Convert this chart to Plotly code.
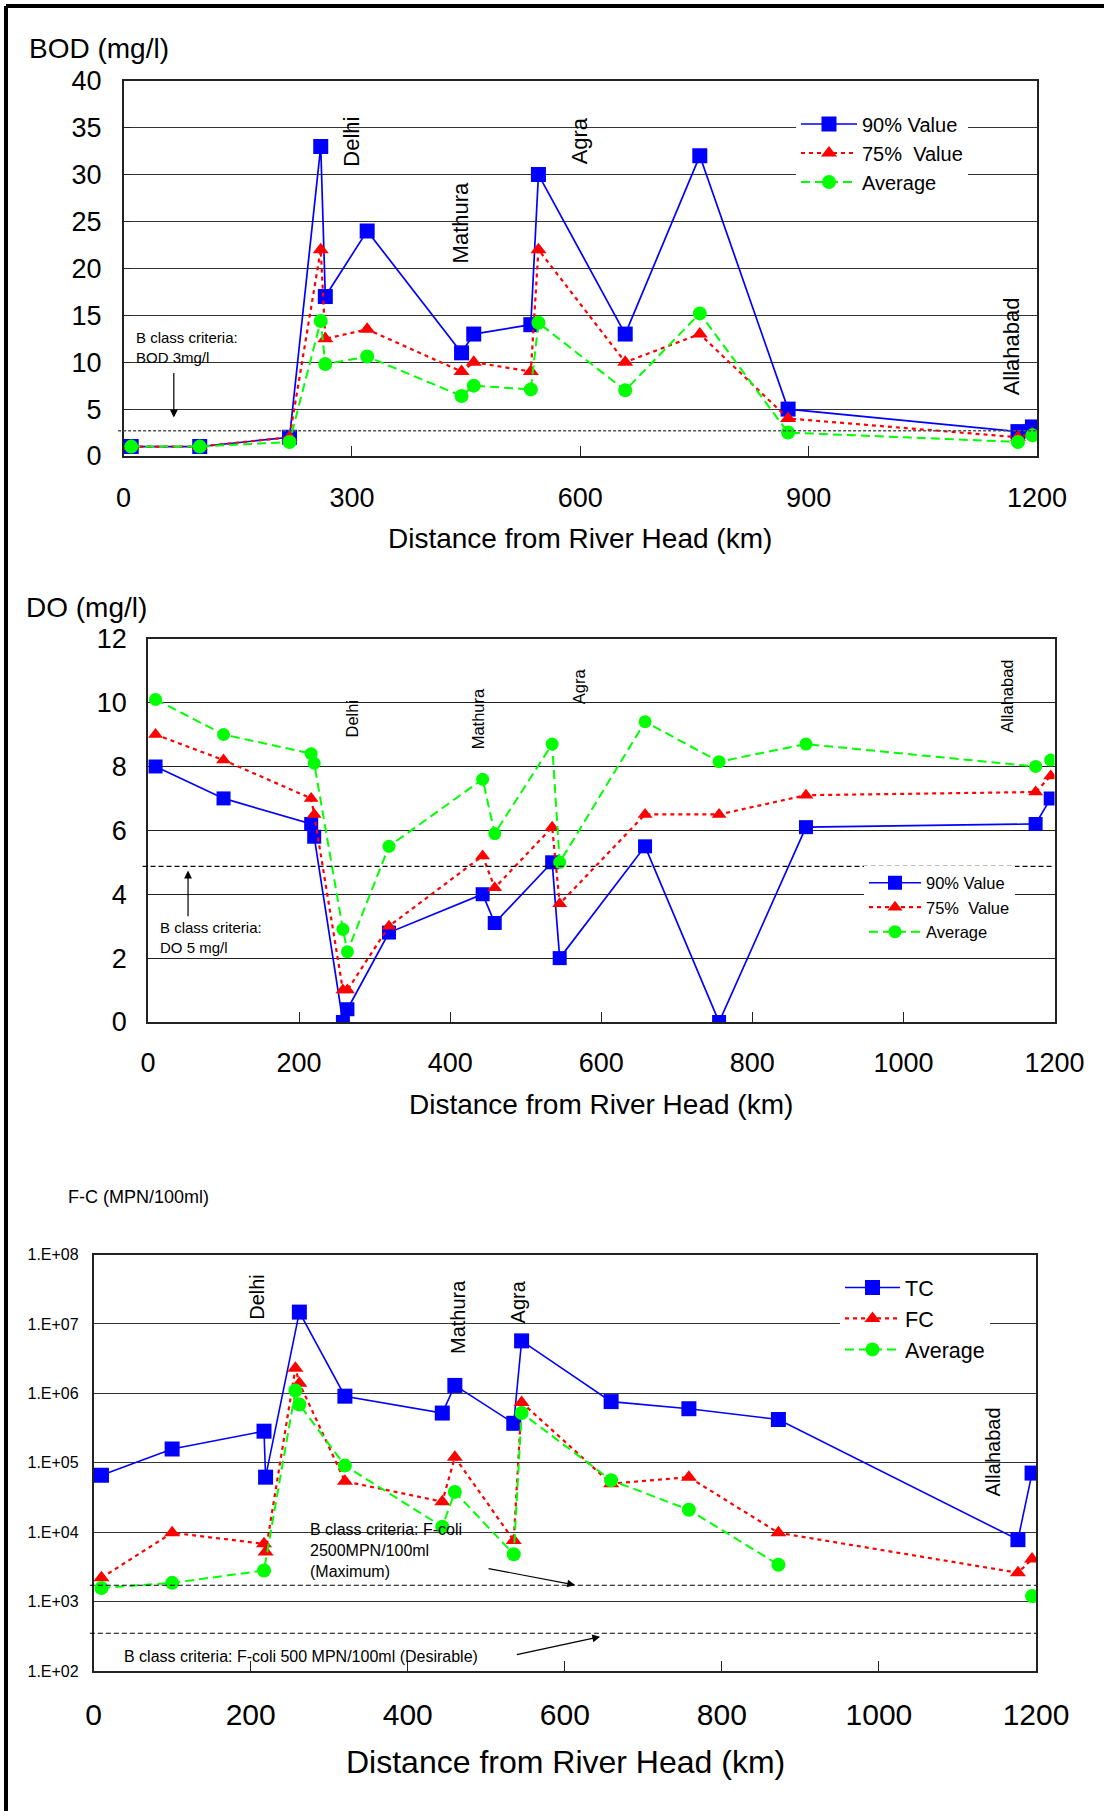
import plotly.graph_objects as go

W, H = 1104, 1811
FONT = "Liberation Sans, Arial, sans-serif"

# ---------------- BOD panel data ----------------
bod_km = [10, 100, 218, 259, 265, 320, 444, 460, 535, 545, 659, 757, 873, 1175, 1194]
bod_90 = [1, 1, 2, 33, 17, 24, 11, 13, 14, 30, 13, 32, 5, 2.6, 3.1]
bod_75 = [1, 1, 2, 22, 12.5, 13.5, 9, 10, 9, 22, 10, 13, 4, 2.0, 2.4]
bod_avg = [1, 1, 1.5, 14.4, 9.8, 10.6, 6.4, 7.5, 7.1, 14.2, 7.0, 15.2, 2.5, 1.5, 2.2]
bod_criteria = 2.7
bod_ticks = [0, 300, 600, 900, 1200]

# ---------------- DO panel data ----------------
do_km = [10, 100, 216, 220, 258, 264, 319, 443, 459, 535, 545, 658, 756, 871, 1175, 1195]
do_90 = [8.0, 7.0, 6.2, 5.8, 0.0, 0.4, 2.8, 4.0, 3.1, 5.0, 2.0, 5.5, 0.0, 6.1, 6.2, 7.0]
do_75 = [9.0, 8.2, 7.0, 6.5, 1.0, 1.0, 3.0, 5.2, 4.2, 6.1, 3.7, 6.5, 6.5, 7.1, 7.2, 7.7]
do_avg = [10.1, 9.0, 8.4, 8.1, 2.9, 2.2, 5.5, 7.6, 5.9, 8.7, 5.0, 9.4, 8.15, 8.7, 8.0, 8.2]
do_criteria = 4.87
do_ticks = [0, 200, 400, 600, 800, 1000, 1200]

# ---------------- Coliform panel data ----------------
tc_km = [10, 100, 217, 219, 262, 320, 444, 460, 535, 545, 659, 758, 872, 1177, 1195]
tc_val = [6.6e4, 1.58e5, 2.85e5, 6.2e4, 1.48e7, 9.1e5, 5.2e5, 1.3e6, 3.7e5, 5.7e6,
          7.6e5, 6.0e5, 4.2e5, 7.8e3, 7.1e4]
fc_km = [10, 100, 217, 219, 257, 262, 320, 444, 460, 535, 545, 659, 758, 872, 1177, 1195]
fc_val = [2.2e3, 9.8e3, 6.8e3, 5.2e3, 2.3e6, 1.4e6, 5.4e4, 2.75e4, 1.2e5, 7.6e3,
          7.4e5, 5.0e4, 6.2e4, 9.8e3, 2.6e3, 4.1e3]
fcavg_km = [10, 100, 217, 257, 262, 320, 444, 460, 535, 545, 659, 758, 872, 1177, 1195]
fcavg_val = [1.57e3, 1.86e3, 2.8e3, 1.1e6, 6.9e5, 9.1e4, 1.2e4, 3.8e4, 4.8e3, 5.2e5,
             5.6e4, 2.1e4, 3.4e3, None, 1.2e3]
fc_crit_max = 1720
fc_crit_des = 350
fc_ticks = [1e2, 1e3, 1e4, 1e5, 1e6, 1e7, 1e8]
fc_ticktext = ["1.E+02", "1.E+03", "1.E+04", "1.E+05", "1.E+06", "1.E+07", "1.E+08"]

BLUE, RED, GREEN = "#0000FF", "#FF0000", "#00FF00"


def px(x):
    return x / W


def py(y):
    return 1 - y / H


fig = go.Figure()


def add_series(xs, ys, xa, ya, name, color, dash, symbol, msize, lw, legend, connect=True):
    fig.add_trace(go.Scatter(
        x=xs, y=ys, xaxis=xa, yaxis=ya, name=name, mode="lines+markers",
        line=dict(color=color, width=lw, dash=dash),
        marker=dict(symbol=symbol, size=msize, color=color),
        connectgaps=connect, legend=legend))


# BOD
add_series(bod_km, bod_90, "x", "y", "90% Value", BLUE, "solid", "square", 15, 1.7, "legend")
add_series(bod_km, bod_75, "x", "y", "75%  Value", RED, "4px,4px", "triangle-up", 14, 2.2, "legend")
add_series(bod_km, bod_avg, "x", "y", "Average", GREEN, "9px,5px", "circle", 14, 2, "legend")
# DO
add_series(do_km, do_90, "x2", "y2", "90% Value", BLUE, "solid", "square", 14, 1.7, "legend2")
add_series(do_km, do_75, "x2", "y2", "75%  Value", RED, "4px,4px", "triangle-up", 13, 2.2, "legend2")
add_series(do_km, do_avg, "x2", "y2", "Average", GREEN, "9px,5px", "circle", 13, 2, "legend2")
# Coliform
add_series(tc_km, tc_val, "x3", "y3", "TC", BLUE, "solid", "square", 15, 1.6, "legend3")
add_series(fc_km, fc_val, "x3", "y3", "FC", RED, "4px,4px", "triangle-up", 14, 2.2, "legend3")
add_series(fcavg_km, fcavg_val, "x3", "y3", "Average", GREEN, "9px,5px", "circle", 14, 2, "legend3", connect=False)


def xaxis(dom, anchor, ticks, fsize, standoff):
    return dict(domain=dom, anchor=anchor, range=[0, 1200], tickvals=ticks,
                ticks="inside", ticklen=10, tickwidth=1, tickcolor="#222",
                showline=True, mirror=True, linecolor="#222", linewidth=1.5,
                showgrid=False, zeroline=False, automargin=False,
                tickfont=dict(family=FONT, size=fsize, color="black"),
                ticklabelstandoff=standoff)


fig.update_layout(
    width=W, height=H, margin=dict(l=0, r=0, t=0, b=0, autoexpand=False), autosize=False,
    paper_bgcolor="white", plot_bgcolor="white",
    font=dict(family=FONT, color="black"),
    xaxis=xaxis([px(123.6), px(1037)], "y", bod_ticks, 27, 17),
    yaxis=dict(domain=[py(456), py(80.8)], anchor="x", range=[0, 40], dtick=5,
               showgrid=True, gridcolor="#333", gridwidth=1.3,
               ticks="inside", ticklen=8, tickcolor="#222",
               showline=True, mirror=True, linecolor="#222", linewidth=1.5,
               zeroline=False, automargin=False,
               tickfont=dict(family=FONT, size=27, color="black"),
               ticklabelstandoff=15),
    xaxis2=xaxis([px(148), px(1054.5)], "y2", do_ticks, 27, 16),
    yaxis2=dict(domain=[py(1022), py(638.7)], anchor="x2", range=[0, 12], dtick=2,
                showgrid=True, gridcolor="#222", gridwidth=1,
                ticks="", showline=True, mirror=True, linecolor="#222", linewidth=1.5,
                zeroline=False, automargin=False,
                tickfont=dict(family=FONT, size=27, color="black"),
                ticklabelstandoff=14),
    xaxis3=xaxis([px(93.6), px(1036)], "y3", do_ticks, 30, 16),
    yaxis3=dict(domain=[py(1671), py(1254.5)], anchor="x3", type="log", range=[2, 8],
                tickvals=fc_ticks, ticktext=fc_ticktext,
                showgrid=True, gridcolor="#333", gridwidth=1.2,
                ticks="", showline=True, mirror=True, linecolor="#222", linewidth=1.5,
                zeroline=False, automargin=False,
                tickfont=dict(family=FONT, size=16, color="black"),
                ticklabelstandoff=10),
    legend=dict(x=px(796), y=py(104.5), xanchor="left", yanchor="top", bgcolor="white",
                borderwidth=0, font=dict(family=FONT, size=20), itemwidth=56,
                tracegroupgap=0),
    legend2=dict(x=px(864), y=py(865.5), xanchor="left", yanchor="top", bgcolor="white",
                 borderwidth=0, font=dict(family=FONT, size=16.5), itemwidth=52,
                 tracegroupgap=0),
    legend3=dict(x=px(840), y=py(1267), xanchor="left", yanchor="top", bgcolor="white",
                 borderwidth=0, font=dict(family=FONT, size=21.5), itemwidth=55,
                 tracegroupgap=0),
    showlegend=True,
)

anns = []


def paper_text(text, x, y, size, xanchor="left"):
    anns.append(dict(text=text, x=px(x), y=py(y), xref="paper", yref="paper",
                     xanchor=xanchor, yanchor="middle", showarrow=False,
                     font=dict(family=FONT, size=size, color="black")))


# axis titles
paper_text("BOD (mg/l)", 27, 48.5, 28)
paper_text("Distance from River Head (km)", 580, 538, 28, "center")
paper_text("DO (mg/l)", 24, 607.5, 28)
paper_text("Distance from River Head (km)", 601, 1104, 28, "center")
paper_text("F-C (MPN/100ml)", 66, 1196.5, 18)
paper_text("Distance from River Head (km)", 565, 1762, 32, "center")


def city(text, x, y, xa, ya, size):
    anns.append(dict(text=text, x=x, y=y, xref=xa, yref=ya, textangle=-90,
                     showarrow=False, xanchor="center", yanchor="middle",
                     font=dict(family=FONT, size=size, color="black")))


city("Delhi", 300, 33.5, "x", "y", 22)
city("Mathura", 442, 24.8, "x", "y", 22)
city("Agra", 599, 33.6, "x", "y", 22)
city("Allahabad", 1166, 11.7, "x", "y", 22)

city("Delhi", 270, 9.5, "x2", "y2", 16.5)
city("Mathura", 437, 9.48, "x2", "y2", 16.5)
city("Agra", 570, 10.5, "x2", "y2", 16.5)
city("Allahabad", 1138, 10.2, "x2", "y2", 16.5)

city("Delhi", 208, 7.39, "x3", "y3", 20)
city("Mathura", 464, 7.1, "x3", "y3", 20)
city("Agra", 540, 7.32, "x3", "y3", 20)
city("Allahabad", 1145, 5.16, "x3", "y3", 20)


def data_text(text, x, y, xa, ya, size):
    anns.append(dict(text=text, x=x, y=y, xref=xa, yref=ya, showarrow=False,
                     xanchor="left", yanchor="middle", align="left",
                     font=dict(family=FONT, size=size, color="black")))


def arrow(x, y, ax, ay, xa, ya):
    anns.append(dict(text="", x=x, y=y, ax=ax, ay=ay, xref=xa, yref=ya,
                     axref=xa, ayref=ya, showarrow=True, arrowhead=2,
                     arrowsize=1.3, arrowwidth=1.2, arrowcolor="black"))


data_text("B class criteria:<br>BOD 3mg/l", 13, 11.6, "x", "y", 15)
arrow(66, 4.1, 66, 9.0, "x", "y")

data_text("B class criteria:<br>DO 5 mg/l", 13, 2.66, "x2", "y2", 15)
arrow(53, 4.74, 53, 3.26, "x2", "y2")

data_text("B class criteria: F-coli<br>2500MPN/100ml<br>(Maximum)", 273, 3.74, "x3", "y3", 16)
arrow(613, 3.239, 501, 3.48, "x3", "y3")
data_text("B class criteria: F-coli 500 MPN/100ml (Desirable)", 36, 2.206, "x3", "y3", 16)
arrow(645, 2.494, 537, 2.23, "x3", "y3")

fig.update_layout(annotations=anns)

shapes = [
    dict(type="line", xref="x domain", yref="y", x0=-0.006, x1=1,
         y0=bod_criteria, y1=bod_criteria, line=dict(color="#555", width=1.5, dash="3px,2px")),
    dict(type="line", xref="x2 domain", yref="y2", x0=-0.006, x1=1,
         y0=do_criteria, y1=do_criteria, line=dict(color="black", width=1.2, dash="5px,3px")),
    dict(type="line", xref="x3 domain", yref="y3", x0=-0.004, x1=1,
         y0=fc_crit_max, y1=fc_crit_max, line=dict(color="black", width=1.1, dash="5px,3px")),
    dict(type="line", xref="x3 domain", yref="y3", x0=-0.004, x1=1,
         y0=fc_crit_des, y1=fc_crit_des, line=dict(color="black", width=1.1, dash="5px,3px")),
    # outer frame (left and top edges)
    dict(type="line", xref="paper", yref="paper", x0=px(6), x1=px(6), y0=0, y1=py(6),
         line=dict(color="black", width=4)),
    dict(type="line", xref="paper", yref="paper", x0=px(6), x1=1, y0=py(6), y1=py(6),
         line=dict(color="black", width=4)),
]
fig.update_layout(shapes=shapes)

fig.write_html("out.html", config={"displayModeBar": False})
